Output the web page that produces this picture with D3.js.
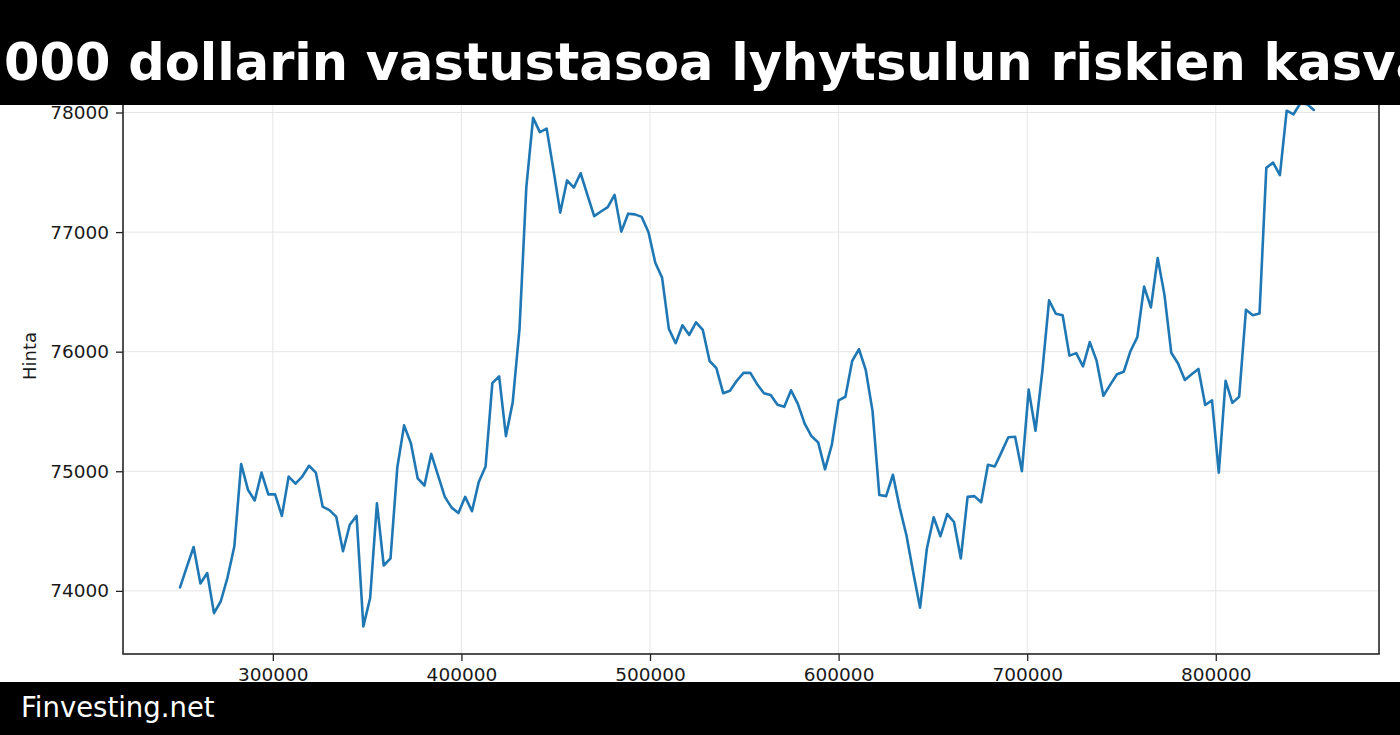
<!DOCTYPE html>
<html>
<head>
<meta charset="utf-8">
<script src="https://cdn.jsdelivr.net/npm/d3@7"></script>
<style>
  html, body { margin: 0; padding: 0; background: #ffffff; }
  svg { display: block; }
</style>
</head>
<body>
<svg id="chart" width="1400" height="735"></svg>
<script>
// ---- data ----
const titleText = "000 dollarin vastustasoa lyhytsulun riskien kasva";
const footerText = "Finvesting.net";
const yLabel = "Hinta";

const xValues = [
  250800, 254400, 258000, 261600, 265200, 268800, 272400, 276000, 279600, 283200,
  286800, 290400, 294000, 297600, 301200, 304800, 308400, 312000, 315600, 319200,
  322800, 326400, 330000, 333600, 337200, 340800, 344400, 348000, 351600, 355200,
  358800, 362400, 366000, 369600, 373200, 376800, 380400, 384000, 387600, 391200,
  394800, 398400, 402000, 405600, 409200, 412800, 416400, 420000, 423600, 427200,
  430800, 434400, 438000, 441600, 445200, 448800, 452400, 456000, 459600, 463200,
  466800, 470400, 474000, 477600, 481200, 484800, 488400, 492000, 495600, 499200,
  502800, 506400, 510000, 513600, 517200, 520800, 524400, 528000, 531600, 535200,
  538800, 542400, 546000, 549600, 553200, 556800, 560400, 564000, 567600, 571200,
  574800, 578400, 582000, 585600, 589200, 592800, 596400, 600000, 603600, 607200,
  610800, 614400, 618000, 621600, 625200, 628800, 632400, 636000, 639600, 643200,
  646800, 650400, 654000, 657600, 661200, 664800, 668400, 672000, 675600, 679200,
  682800, 686400, 690000, 693600, 697200, 700800, 704400, 708000, 711600, 715200,
  718800, 722400, 726000, 729600, 733200, 736800, 740400, 744000, 747600, 751200,
  754800, 758400, 762000, 765600, 769200, 772800, 776400, 780000, 783600, 787200,
  790800, 794400, 798000, 801600, 805200, 808800, 812400, 816000, 819600, 823200,
  826800, 830400, 834000, 837600, 841200, 844800, 848400, 852000
];

const priceValues = [
  74029, 74200, 74367, 74062, 74149, 73814, 73913, 74113, 74373, 75061,
  74846, 74756, 74989, 74807, 74807, 74627, 74956, 74896, 74956, 75046,
  74989, 74705, 74675, 74621, 74331, 74553, 74627, 73703, 73940, 74732,
  74212, 74271, 75031, 75384, 75234, 74941, 74881, 75145, 74965, 74786,
  74696, 74651, 74786, 74666, 74911, 75040, 75737, 75793, 75294, 75578,
  76191, 77372, 77955, 77836, 77865, 77522, 77163, 77432, 77372, 77492,
  77312, 77133, 77172, 77208, 77312, 77004, 77154, 77148, 77127, 76998,
  76744, 76619, 76191, 76071, 76221, 76140, 76245, 76182, 75922, 75862,
  75653, 75674, 75757, 75823, 75823, 75728, 75653, 75638, 75557, 75539,
  75677, 75563, 75399, 75294, 75240, 75016, 75220, 75593, 75623, 75922,
  76021, 75847, 75503, 74801, 74792, 74971, 74696, 74463, 74152, 73859,
  74352, 74615, 74457, 74642, 74576, 74271, 74786, 74792, 74741, 75055,
  75040, 75160, 75285, 75288, 75001, 75683, 75339, 75832, 76430, 76317,
  76305, 75967, 75988, 75877, 76080, 75925, 75632, 75722, 75811, 75832,
  76006, 76122, 76544, 76370, 76783, 76475, 75991, 75901, 75763, 75811,
  75856, 75554, 75593, 74989, 75757, 75572, 75623, 76350, 76305, 76320,
  77537, 77581, 77477, 78015, 77985, 78075, 78070, 78021
];

const xTicks = [300000, 400000, 500000, 600000, 700000, 800000];
const yTicks = [74000, 75000, 76000, 77000, 78000];
const xLimits = [220550, 886550];
const yLimits = [73472, 78439];

// ---- layout ----
const W = 1400, H = 735;
const plot = { left: 123, right: 1379, top: 60, bottom: 654 };
const font = "'DejaVu Sans', 'Liberation Sans', sans-serif";

const svg = d3.select("#chart");

const x = d3.scaleLinear().domain(xLimits).range([plot.left, plot.right]);
const y = d3.scaleLinear().domain(yLimits).range([plot.bottom, plot.top]);

svg.append("rect").attr("x", 0).attr("y", 0).attr("width", W).attr("height", H).attr("fill", "#ffffff");

// grid
const grid = svg.append("g");
grid.selectAll("line.gx").data(xTicks).enter().append("line")
  .attr("x1", d => x(d)).attr("x2", d => x(d))
  .attr("y1", plot.top).attr("y2", plot.bottom)
  .attr("stroke", "#e6e6e6").attr("stroke-width", 1);
grid.selectAll("line.gy").data(yTicks).enter().append("line")
  .attr("x1", plot.left).attr("x2", plot.right)
  .attr("y1", d => y(d)).attr("y2", d => y(d))
  .attr("stroke", "#e6e6e6").attr("stroke-width", 1);

// line
const pts = xValues.map((xv, i) => [xv, priceValues[i]]);
const line = d3.line().x(d => x(d[0])).y(d => y(d[1]));
svg.append("path").datum(pts)
  .attr("d", line)
  .attr("fill", "none")
  .attr("stroke", "#1f77b4")
  .attr("stroke-width", 2.6)
  .attr("stroke-linejoin", "round")
  .attr("stroke-linecap", "round");

// axes
const xAxis = d3.axisBottom(x).tickValues(xTicks).tickFormat(d3.format("d")).tickSize(7).tickPadding(7);
const yAxis = d3.axisLeft(y).tickValues(yTicks).tickFormat(d3.format("d")).tickSize(7).tickPadding(7);

const gx = svg.append("g").attr("transform", `translate(0,${plot.bottom})`).call(xAxis);
const gy = svg.append("g").attr("transform", `translate(${plot.left},0)`).call(yAxis);
[gx, gy].forEach(g => {
  g.select(".domain").remove();
  g.selectAll(".tick line").attr("stroke", "#222").attr("stroke-width", 1.3);
  g.selectAll(".tick text").attr("fill", "#1a1a1a").style("font-family", font).style("font-size", "18.5px");
});

// frame
svg.append("rect")
  .attr("x", plot.left).attr("y", plot.top)
  .attr("width", plot.right - plot.left).attr("height", plot.bottom - plot.top)
  .attr("fill", "none").attr("stroke", "#262626").attr("stroke-width", 1.6);

// y label
svg.append("text")
  .attr("transform", `translate(36,356) rotate(-90)`)
  .attr("text-anchor", "middle")
  .attr("fill", "#1a1a1a")
  .style("font-family", font).style("font-size", "18px")
  .text(yLabel);

// title banner
svg.append("rect").attr("x", 0).attr("y", 0).attr("width", W).attr("height", 105).attr("fill", "#000000");
svg.append("text")
  .attr("x", 4).attr("y", 80)
  .attr("fill", "#ffffff")
  .style("font-family", font).style("font-weight", "bold").style("font-size", "51px")
  .text(titleText);

// footer banner
svg.append("rect").attr("x", 0).attr("y", 682).attr("width", W).attr("height", H - 682).attr("fill", "#000000");
svg.append("text")
  .attr("x", 21).attr("y", 717)
  .attr("fill", "#ffffff")
  .style("font-family", font).style("font-size", "27.5px")
  .text(footerText);
</script>
</body>
</html>
